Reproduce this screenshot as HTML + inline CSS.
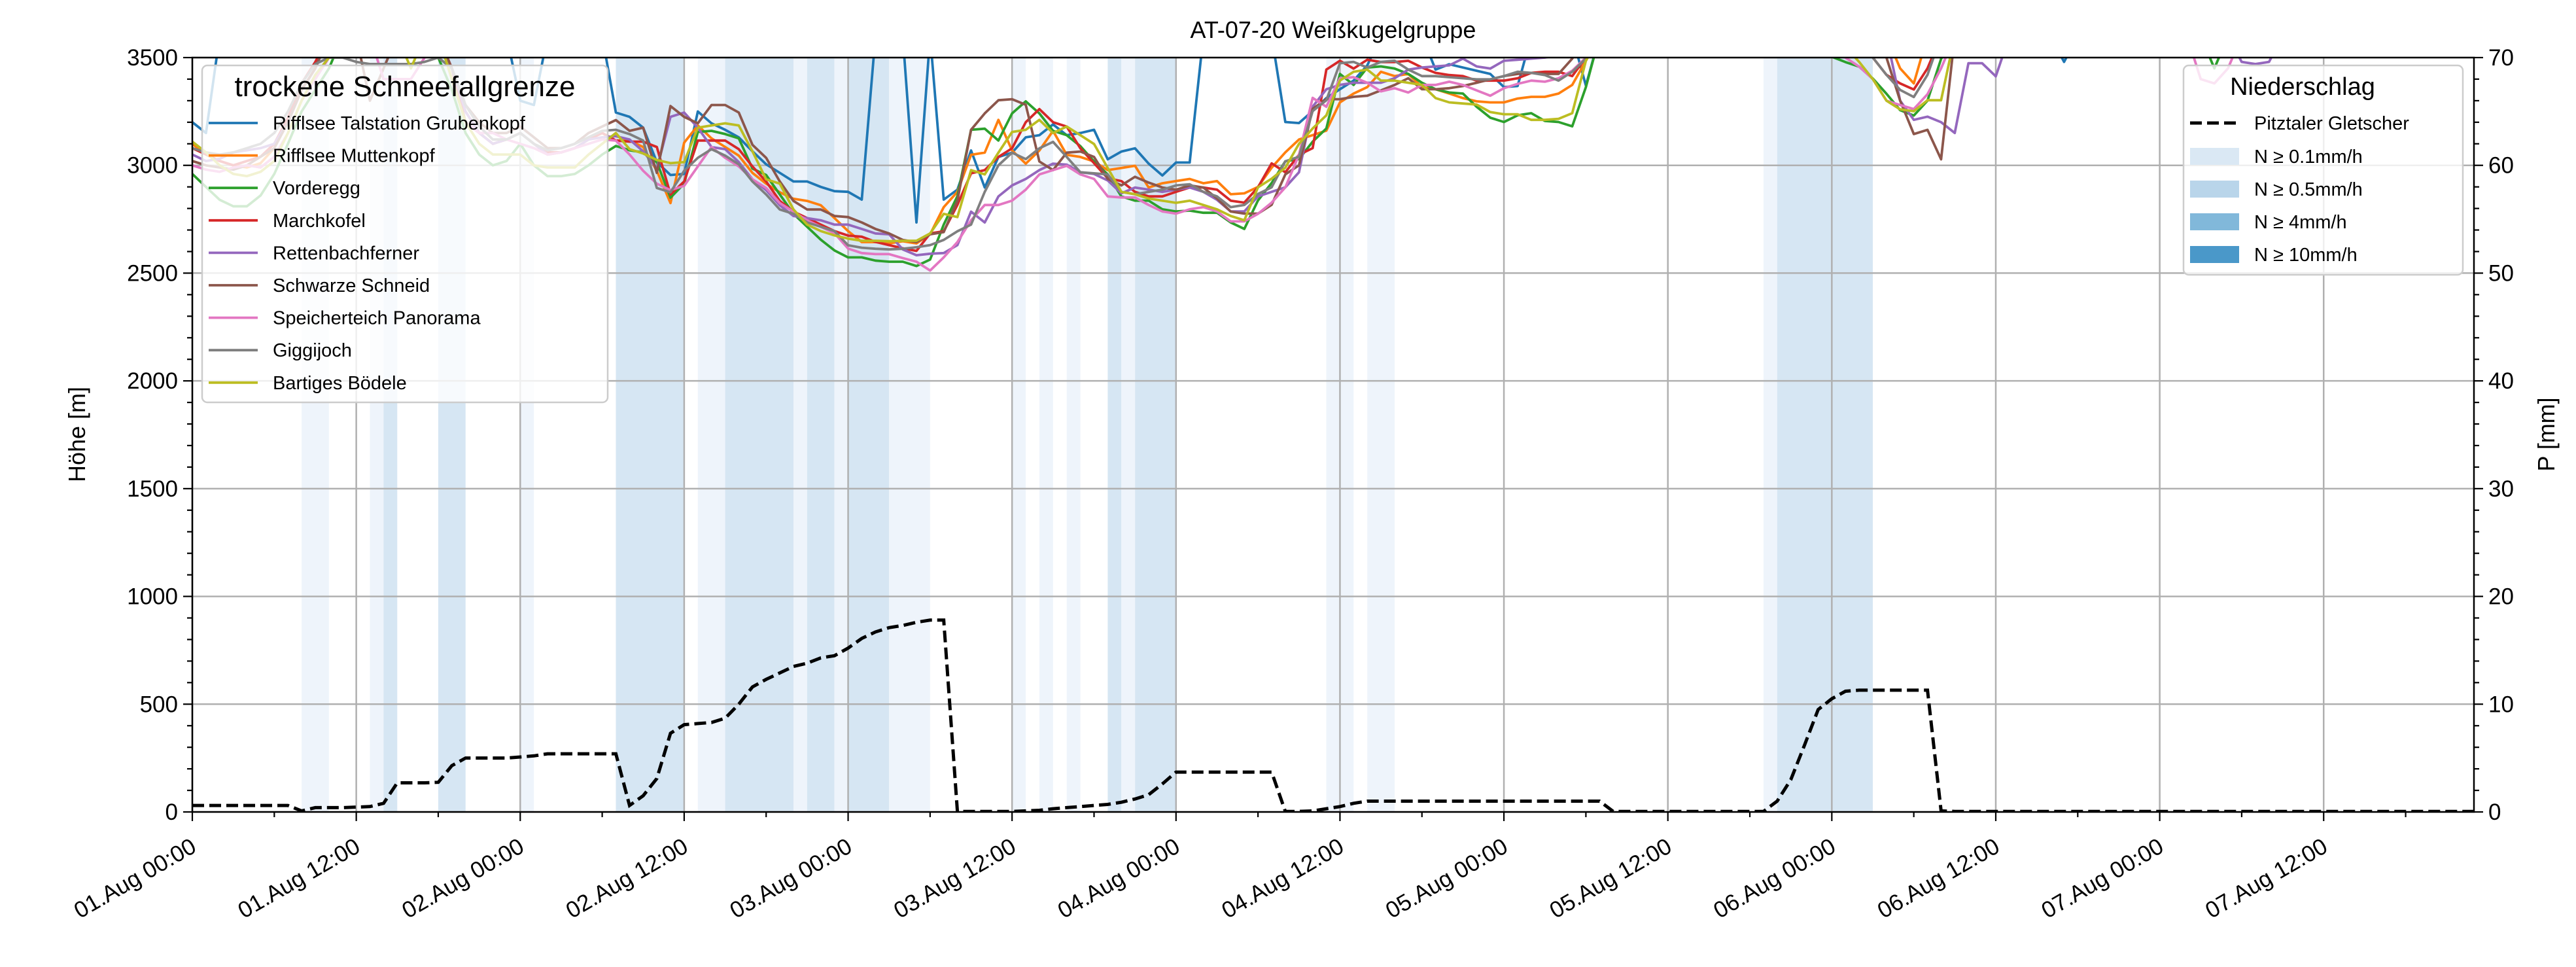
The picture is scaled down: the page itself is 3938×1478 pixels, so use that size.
<!DOCTYPE html>
<html><head><meta charset="utf-8">
<style>
html,body{margin:0;padding:0;background:#fff;}
svg{display:block;font-family:"Liberation Sans","DejaVu Sans",sans-serif;}
</style></head>
<body>
<svg id="chart" xmlns="http://www.w3.org/2000/svg" width="3938" height="1478" viewBox="0 0 3938 1478">
<defs><clipPath id="plotclip"><rect x="294" y="88" width="3488" height="1153"/></clipPath></defs>
<rect x="0" y="0" width="3938" height="1478" fill="#fff"/>
<g id="bands" clip-path="url(#plotclip)"></g>
<g id="grid"></g>
<g id="series" clip-path="url(#plotclip)"></g>
<g id="axes"></g>
<text x="2038" y="58" font-size="36" text-anchor="middle">AT-07-20 Weißkugelgruppe</text>
<text transform="translate(130,664) rotate(-90)" font-size="36" text-anchor="middle">Höhe [m]</text>
<text transform="translate(3905,664) rotate(-90)" font-size="36" text-anchor="middle">P [mm]</text>
<g id="legend1"></g>
<g id="legend2"></g>
</svg>
<script>
const stationNames = ["Rifflsee Talstation Grubenkopf","Rifflsee Muttenkopf","Vorderegg","Marchkofel","Rettenbachferner","Schwarze Schneid","Speicherteich Panorama","Giggijoch","Bartiges Bödele"];
const stationColors = ["#1f77b4","#ff7f0e","#2ca02c","#d62728","#9467bd","#8c564b","#e377c2","#7f7f7f","#bcbd22"];
const xTickLabels = ["01.Aug 00:00","01.Aug 12:00","02.Aug 00:00","02.Aug 12:00","03.Aug 00:00","03.Aug 12:00","04.Aug 00:00","04.Aug 12:00","05.Aug 00:00","05.Aug 12:00","06.Aug 00:00","06.Aug 12:00","07.Aug 00:00","07.Aug 12:00"];
const yTicks = [0,500,1000,1500,2000,2500,3000,3500];
const y2Ticks = [0,10,20,30,40,50,60,70];
const bandStart = [8,13,14,18,24,31,37,39,44,45,47,48,51,60,62,64,67,68,69,83,86,115,116];
const bandEnd   = [10,14,15,20,25,36,39,44,45,47,48,51,54,61,63,65,68,69,72,85,88,116,123];
const bandLevel = [1,1,2,2,1,2,1,2,1,2,1,2,1,1,1,1,2,1,2,1,1,1,2];
const s0 = [3200,3150,3600,3600,3600,3600,3600,3600,3600,3600, 3600,3600,3600,3600,3600,3600,3600,3600,3600,3600, 3600,3600,3600,3600,3300,3280,3600,3600,3600,3600, 3600,3245,3225,3175,3015,2955,2960,3250,3195,3165, 3130,3065,3005,2965,2925,2925,2900,2880,2877,2841, 3600,3600,3600,2735,3600,2841,2887,3069,2897,3039, 3059,3130,3140,3190,3140,3150,3165,3028,3064,3079, 3008,2953,3013,3013,3600,3600,3600,3600,3600,3600, 3201,3196,3252,3312,3353,3393,3464,3600,3600,3600, 3600,3444,3469,3454,3439,3424,3363,3368,3600,3600, 3600,3600,3370,3600,3600,3600,3600,3600,3600,3600, 3600,3600,3600,3600,3600,3600,3600,3600,3600,3600, 3600,3600,3600,3600,3600,3600,3600,3600,3600,3600, 3600,3600,3600,3600,3600,3600,3600,3480,3600,3600, 3600,3600,3600,3600,3600,3600,3600,3600,3600,3600, 3600,3600,3600,3600,3600,3600,3600,3600];
const s1 = [3100,3050,3020,3000,2990,3010,3080,3200,3350,3450, 3600,3600,3600,3600,3600,3600,3600,3600,3600,3450, 3250,3150,3100,3120,3150,3100,3050,3060,3080,3120, 3150,3115,3115,3085,2975,2825,3105,3185,3125,3085, 3045,2965,2915,2875,2845,2835,2815,2755,2695,2644, 2644,2638,2648,2638,2680,2806,2877,3049,3059,3211, 3069,3008,3069,3160,3049,3039,3018,2978,2988,2998, 2897,2917,2927,2937,2917,2927,2866,2870,2900,2989, 3060,3120,3140,3161,3292,3333,3363,3434,3414,3424, 3363,3353,3333,3312,3297,3292,3292,3310,3318,3318, 3333,3373,3485,3600,3600,3600,3600,3600,3600,3600, 3600,3600,3600,3600,3600,3600,3600,3600,3600,3600, 3600,3600,3600,3600,3600,3450,3380,3600,3600,3600, 3600,3600,3600,3600,3600,3600,3600,3600,3600,3600, 3600,3600,3600,3600,3600,3600,3600,3600,3600,3600, 3600,3600,3600,3600,3600,3600,3600,3600,3600,3600, 3600,3600,3600,3600,3600,3600,3600,3600];
const s2 = [2960,2900,2840,2810,2810,2860,2960,3100,3250,3350, 3450,3600,3600,3600,3600,3600,3600,3600,3500,3350, 3150,3050,3000,3020,3100,3000,2950,2950,2960,3000, 3050,3090,3070,3060,3015,2850,2915,3155,3160,3145, 3125,2985,2955,2865,2775,2715,2655,2605,2573,2573, 2558,2553,2553,2533,2563,2725,2857,3165,3170,3115, 3241,3297,3241,3160,3140,3089,3018,2958,2856,2836, 2836,2796,2786,2790,2780,2780,2735,2705,2837,2918, 3019,3029,3110,3171,3424,3373,3454,3459,3449,3424, 3383,3353,3338,3333,3272,3221,3201,3232,3242,3206, 3201,3181,3363,3600,3600,3600,3600,3600,3600,3600, 3600,3600,3600,3600,3600,3600,3600,3600,3600,3600, 3504,3479,3458,3403,3332,3256,3231,3300,3494,3600, 3600,3600,3600,3600,3600,3600,3600,3600,3600,3600, 3600,3600,3600,3600,3600,3600,3600,3600,3450,3600, 3600,3600,3600,3600,3600,3600,3600,3600,3600,3600, 3600,3600,3600,3600,3600,3600,3600,3600];
const s3 = [3080,3050,3020,3000,3020,3040,3100,3220,3380,3480, 3600,3600,3600,3600,3600,3600,3600,3600,3600,3450, 3200,3150,3100,3120,3150,3100,3060,3060,3080,3120, 3150,3115,3110,3110,3085,2865,2925,3115,3115,3115, 3075,2995,2925,2835,2785,2755,2725,2695,2674,2669, 2645,2630,2615,2603,2684,2694,2816,2963,2978,3039, 3079,3200,3261,3200,3180,3079,3010,2940,2927,2877, 2856,2856,2877,2897,2897,2887,2836,2827,2898,3009, 2968,3049,3080,3444,3485,3449,3490,3479,3479,3485, 3454,3429,3419,3414,3393,3393,3393,3404,3429,3434, 3434,3414,3500,3600,3600,3600,3600,3600,3600,3600, 3600,3600,3600,3600,3600,3600,3600,3600,3600,3600, 3600,3600,3600,3500,3420,3380,3352,3450,3600,3600, 3600,3600,3600,3600,3600,3600,3600,3600,3600,3600, 3600,3600,3600,3600,3600,3600,3600,3600,3600,3600, 3600,3600,3600,3600,3600,3600,3600,3600,3600,3600, 3600,3600,3600,3600,3600,3600,3600,3600];
const s4 = [3050,3020,3030,3060,3070,3080,3100,3200,3350,3450, 3600,3600,3600,3600,3600,3600,3600,3600,3600,3450, 3250,3150,3100,3120,3150,3100,3050,3060,3080,3120, 3130,3135,3120,3065,2985,3225,3245,3175,3085,3075, 3015,2935,2885,2815,2765,2755,2745,2725,2725,2705, 2684,2680,2610,2583,2590,2593,2630,2785,2735,2856, 2907,2937,2978,3008,3003,2968,2960,2930,2870,2897, 2887,2877,2887,2897,2877,2840,2786,2786,2856,2877, 2898,2968,3272,3353,3373,3383,3383,3383,3404,3444, 3454,3459,3464,3495,3459,3449,3485,3490,3495,3500, 3510,3600,3600,3600,3600,3600,3600,3600,3600,3600, 3600,3600,3600,3600,3600,3600,3600,3600,3600,3600, 3600,3600,3600,3600,3600,3300,3211,3226,3200,3150, 3474,3474,3413,3600,3600,3600,3600,3600,3600,3600, 3600,3600,3600,3600,3600,3600,3600,3600,3600,3600, 3480,3470,3480,3600,3600,3600,3600,3600,3600,3600, 3600,3600,3600,3600,3600,3600,3600,3600];
const s5 = [3020,3000,2990,2980,3000,3040,3080,3200,3350,3450, 3600,3600,3600,3300,3450,3600,3600,3600,3600,3450, 3280,3200,3150,3150,3180,3130,3080,3080,3100,3150, 3180,3210,3160,3175,2965,3275,3225,3195,3280,3280, 3245,3095,3035,2925,2835,2795,2795,2765,2760,2735, 2705,2684,2654,2644,2680,2690,2836,3165,3241,3302, 3307,3281,3018,2978,3059,3064,3039,2937,2907,2947, 2920,2897,2887,2907,2897,2846,2786,2776,2776,2817, 2958,3000,3262,3307,3307,3318,3323,3348,3373,3404, 3353,3353,3358,3368,3383,3399,3414,3424,3429,3424, 3424,3495,3600,3600,3600,3600,3600,3600,3600,3600, 3600,3600,3600,3600,3600,3600,3600,3600,3600,3600, 3600,3600,3600,3600,3500,3300,3145,3165,3028,3600, 3600,3600,3600,3600,3600,3600,3600,3600,3600,3600, 3600,3600,3600,3600,3600,3600,3600,3600,3600,3600, 3600,3600,3600,3600,3600,3600,3600,3600,3600,3600, 3600,3600,3600,3600,3600,3600,3600,3600];
const s6 = [3000,2980,2970,2990,3000,2990,3040,3150,3300,3400, 3500,3600,3600,3600,3400,3400,3400,3500,3600,3400, 3200,3150,3150,3120,3100,3080,3050,3060,3080,3100, 3120,3115,3050,2975,2915,2885,2905,2995,3085,3035, 2995,2935,2895,2825,2785,2745,2715,2685,2614,2593, 2588,2588,2570,2553,2512,2573,2644,2745,2816,2816, 2836,2887,2958,2978,2998,2958,2937,2856,2851,2851, 2816,2786,2776,2796,2806,2786,2740,2740,2775,2827, 2898,3049,3313,3272,3404,3409,3383,3343,3358,3338, 3373,3373,3388,3373,3348,3323,3358,3378,3393,3388, 3404,3439,3500,3600,3600,3600,3600,3600,3600,3600, 3600,3600,3600,3600,3600,3600,3600,3600,3600,3600, 3600,3500,3458,3400,3300,3280,3261,3330,3450,3600, 3600,3600,3600,3600,3600,3600,3600,3600,3600,3600, 3600,3600,3600,3600,3600,3600,3600,3400,3380,3450, 3600,3600,3600,3600,3600,3600,3600,3600,3600,3600, 3600,3600,3600,3600,3600,3600,3600,3600];
const s7 = [3080,3060,3050,3060,3080,3100,3150,3250,3380,3470, 3500,3500,3480,3470,3470,3470,3470,3480,3500,3450, 3280,3180,3120,3120,3150,3100,3070,3080,3100,3130, 3160,3165,3145,3115,2895,2875,2975,3035,3075,3045, 3005,2925,2865,2795,2775,2735,2715,2695,2629,2618, 2613,2610,2613,2620,2630,2654,2694,2725,2877,3000, 3059,3029,3079,3109,3039,2968,2963,2958,2877,2866, 2877,2887,2907,2912,2877,2856,2806,2816,2867,2898, 3019,3040,3252,3302,3474,3480,3454,3480,3485,3444, 3414,3414,3409,3404,3399,3399,3414,3434,3429,3419, 3393,3434,3495,3600,3600,3600,3600,3600,3600,3600, 3600,3600,3600,3600,3600,3600,3600,3600,3600,3600, 3600,3600,3600,3500,3420,3350,3317,3420,3600,3600, 3600,3600,3600,3600,3600,3600,3600,3600,3600,3600, 3600,3600,3600,3600,3600,3600,3600,3600,3600,3600, 3600,3600,3600,3600,3600,3600,3600,3600,3600,3600, 3600,3600,3600,3600,3600,3600,3600,3600];
const s8 = [3110,3060,3000,2960,2950,2970,3020,3150,3300,3420, 3500,3600,3600,3600,3600,3600,3450,3600,3600,3400, 3200,3100,3050,3050,3050,3000,2990,2990,2990,3050, 3100,3150,3075,3055,3025,3010,3015,3175,3185,3195, 3185,3065,2935,2915,2795,2725,2695,2675,2660,2650, 2650,2648,2650,2650,2684,2775,2760,2978,2958,3059, 3155,3165,3211,3150,3180,3140,3099,2988,2877,2866, 2846,2836,2826,2836,2816,2796,2765,2745,2898,2938, 2989,3100,3171,3232,3393,3434,3444,3393,3393,3383, 3373,3312,3292,3287,3282,3247,3237,3237,3211,3211, 3216,3242,3485,3600,3600,3600,3600,3600,3600,3600, 3600,3600,3600,3600,3600,3600,3600,3600,3600,3600, 3600,3550,3480,3400,3300,3260,3251,3302,3302,3600, 3600,3600,3600,3600,3600,3600,3600,3600,3600,3600, 3600,3600,3600,3600,3600,3600,3600,3600,3600,3600, 3600,3600,3600,3600,3600,3600,3600,3600,3600,3600, 3600,3600,3600,3600,3600,3600,3600,3600];
const precip = [0.6,0.6,0.6,0.6,0.6,0.6,0.6,0.6,0.1,0.4, 0.4,0.4,0.45,0.5,0.8,2.7,2.7,2.7,2.75,4.3, 5.0,5.0,5.0,5.0,5.1,5.2,5.4,5.4,5.4,5.4, 5.4,5.4,0.6,1.5,3.1,7.3,8.1,8.2,8.3,8.7, 10.0,11.6,12.3,12.9,13.5,13.8,14.3,14.5,15.2,16.1, 16.7,17.1,17.3,17.6,17.8,17.8,0.05,0.05,0.05,0.05, 0.05,0.1,0.15,0.3,0.4,0.5,0.6,0.7,0.9,1.2, 1.6,2.6,3.7,3.7,3.7,3.7,3.7,3.7,3.7,3.7, 0.05,0.05,0.1,0.3,0.5,0.8,1.0,1.0,1.0,1.0, 1.0,1.0,1.0,1.0,1.0,1.0,1.0,1.0,1.0,1.0, 1.0,1.0,1.0,1.0,0.05,0.05,0.05,0.05,0.05,0.05, 0.05,0.05,0.05,0.05,0.05,0.05,1.0,3.0,6.2,9.5, 10.5,11.2,11.3,11.3,11.3,11.3,11.3,11.3,0.1,0.05, 0.05,0.05,0.05,0.05,0.05,0.05,0.05,0.05,0.05,0.05, 0.05,0.05,0.05,0.05,0.05,0.05,0.05,0.05,0.05,0.05, 0.05,0.05,0.05,0.05,0.05,0.05,0.05,0.05,0.05,0.05, 0.05,0.05,0.05,0.05,0.05,0.05,0.05,0.05];
const stationSeries = [s0,s1,s2,s3,s4,s5,s6,s7,s8];

const NS = "http://www.w3.org/2000/svg";
const L = 294, R = 3782, T = 88, B = 1241, HMAX = 167, VMAX = 3500, PMAX = 70;
function X(h){ return L + h * (R - L) / HMAX; }
function Y(v){ return B - v * (B - T) / VMAX; }
function YP(p){ return B - p * (B - T) / PMAX; }
function mk(tag, attrs, parent){
  const e = document.createElementNS(NS, tag);
  for (const k in attrs) e.setAttribute(k, attrs[k]);
  parent.appendChild(e);
  return e;
}
const gB = document.getElementById('bands'), gG = document.getElementById('grid'),
      gS = document.getElementById('series'), gA = document.getElementById('axes');

for (let i = 0; i < bandStart.length; i++) {
  const r = mk('rect', {x: X(bandStart[i]), y: T, width: X(bandEnd[i]) - X(bandStart[i]), height: B - T,
    fill: bandLevel[i] === 2 ? '#d6e6f3' : '#eef4fb'}, gB);
  
  
}
for (let i = 0; i < xTickLabels.length; i++) {
  const x = X(i * 12);
  const l = mk('line', {x1: x, x2: x, y1: T, y2: B, stroke: '#b0b0b0', 'stroke-width': 2.5}, gG);
  
  
}
for (const v of yTicks) {
  const l = mk('line', {x1: L, x2: R, y1: Y(v), y2: Y(v), stroke: '#b0b0b0', 'stroke-width': 2.5}, gG);
  
  
}
stationSeries.forEach((s, si) => {
  const d = s.map((v, h) => (h ? 'L' : 'M') + X(h).toFixed(1) + ',' + Y(v).toFixed(1)).join('');
  const p = mk('path', {d: d, fill: 'none', stroke: stationColors[si], 'stroke-width': 3.8, 'stroke-linejoin': 'round'}, gS);
  
  
});
{
  const d = precip.map((v, h) => (h ? 'L' : 'M') + X(h).toFixed(1) + ',' + YP(v).toFixed(1)).join('');
  const p = mk('path', {d: d, fill: 'none', stroke: '#000', 'stroke-width': 5, 'stroke-dasharray': '18 8'}, gS);
  
  
}
const fr = mk('rect', {x: L, y: T, width: R - L, height: B - T, fill: 'none', stroke: '#000', 'stroke-width': 2.5}, gA);


for (let h = 0; h <= HMAX; h += 6) {
  const major = h % 12 === 0;
  mk('line', {x1: X(h), x2: X(h), y1: B, y2: B + (major ? 14 : 8), stroke: '#000', 'stroke-width': 2.2}, gA);
}
xTickLabels.forEach((lab, i) => {
  const x = X(i * 12);
  const t = mk('text', {transform: 'translate(' + (x - 4) + ',' + (B + 38) + ') rotate(-30)', 'font-size': 35, 'text-anchor': 'end', 'dominant-baseline': 'hanging'}, gA);
  t.textContent = lab;
  
  
});
for (let v = 0; v <= VMAX; v += 100) {
  const major = v % 500 === 0;
  mk('line', {x1: L, x2: L - (major ? 14 : 8), y1: Y(v), y2: Y(v), stroke: '#000', 'stroke-width': 2.2}, gA);
}
yTicks.forEach(v => {
  const t = mk('text', {x: L - 22, y: Y(v) + 12, 'font-size': 35, 'text-anchor': 'end'}, gA);
  t.textContent = String(v);
  
  
});
for (let p = 0; p <= PMAX; p += 2) {
  const major = p % 10 === 0;
  mk('line', {x1: R, x2: R + (major ? 14 : 8), y1: YP(p), y2: YP(p), stroke: '#000', 'stroke-width': 2.2}, gA);
}
y2Ticks.forEach(p => {
  const t = mk('text', {x: R + 22, y: YP(p) + 12, 'font-size': 35, 'text-anchor': 'start'}, gA);
  t.textContent = String(p);
  
  
});
const g1 = document.getElementById('legend1');
mk('rect', {x: 309, y: 100, width: 620, height: 515, rx: 8, fill: '#fff', 'fill-opacity': 0.8, stroke: '#cccccc', 'stroke-width': 2.5}, g1);
{ const t = mk('text', {x: 619, y: 147, 'font-size': 44, 'text-anchor': 'middle'}, g1); t.textContent = 'trockene Schneefallgrenze'; }
stationNames.forEach((n, i) => {
  const y = 188 + i * 49.6;
  const ln = mk('line', {x1: 319, x2: 394, y1: y, y2: y, stroke: stationColors[i], 'stroke-width': 3.8}, g1);
  
  
  const t = mk('text', {x: 417, y: y + 10, 'font-size': 29}, g1);
  t.textContent = n;
  
  
});
const g2 = document.getElementById('legend2');
mk('rect', {x: 3338, y: 100, width: 427, height: 320, rx: 8, fill: '#fff', 'fill-opacity': 0.8, stroke: '#cccccc', 'stroke-width': 2.5}, g2);
{ const t = mk('text', {x: 3520, y: 145, 'font-size': 38, 'text-anchor': 'middle'}, g2); t.textContent = 'Niederschlag'; }
{
  const ln = mk('line', {x1: 3348, x2: 3423, y1: 188, y2: 188, stroke: '#000', 'stroke-width': 5, 'stroke-dasharray': '18 8'}, g2);
  
  
  const t = mk('text', {x: 3446, y: 198, 'font-size': 29}, g2); t.textContent = 'Pitztaler Gletscher';
  
  
}
const precipLegend = ['N ≥ 0.1mm/h','N ≥ 0.5mm/h','N ≥ 4mm/h','N ≥ 10mm/h'];
const precipLegendColors = ['#dae8f4','#b9d5ea','#81b8da','#4a98c9'];
precipLegend.forEach((n, i) => {
  const y = 239 + i * 50;
  const r = mk('rect', {x: 3348, y: y - 13, width: 75, height: 26, fill: precipLegendColors[i]}, g2);
  
  
  const t = mk('text', {x: 3446, y: y + 10, 'font-size': 29}, g2);
  t.textContent = n;
  
  
});
</script>
</body></html>
